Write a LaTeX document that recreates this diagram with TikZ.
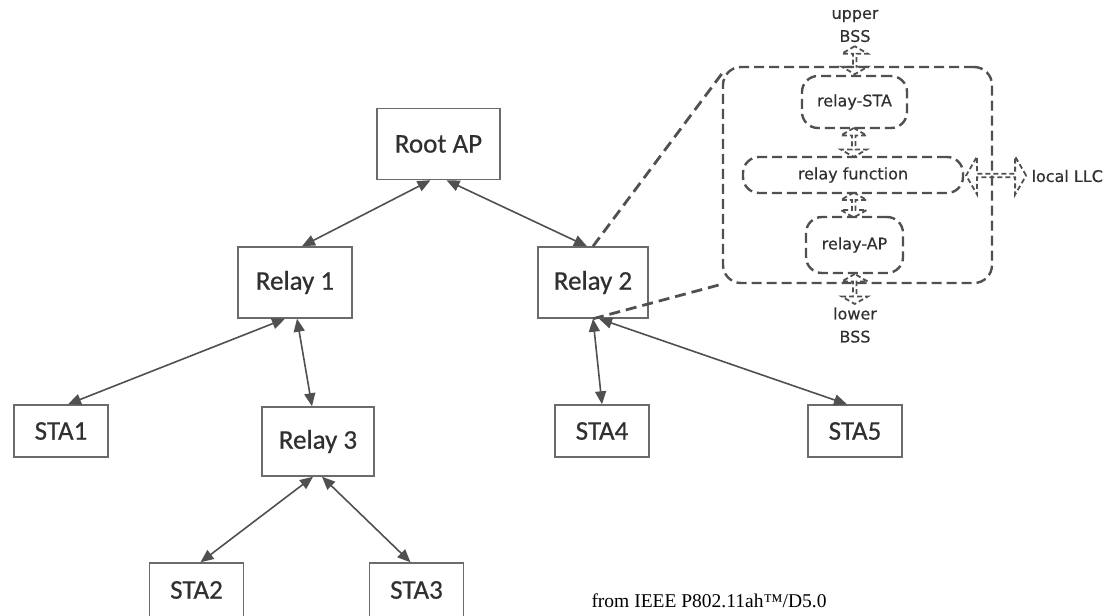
\documentclass[tikz,border=0pt]{standalone}
\usepackage{fontspec}
\setmainfont{Carlito}
\newfontfamily\boxfont{Carlito}[FakeBold=0.6]
\newfontfamily\relayfont{DejaVu Sans}[FakeBold=0.4]
\newfontfamily\notefont{Liberation Serif}
\usetikzlibrary{arrows.meta,shapes.arrows,calc}
\definecolor{boxgray}{HTML}{6B6B6B}
\definecolor{linkgray}{HTML}{505050}
\definecolor{txtgray}{HTML}{303030}
\begin{document}
\begin{tikzpicture}[x=1pt,y=-1pt,
  >={Triangle[length=13pt,width=11pt]},
  unit/.style={draw=boxgray,line width=1.5pt,text=txtgray,font=\boxfont\fontsize{27}{30}\selectfont,inner sep=0pt},
  relay/.style={unit,minimum width=112pt,minimum height=71pt},
  sta/.style={unit,minimum width=94pt,minimum height=52pt},
  link/.style={<->,draw=linkgray,line width=1.6pt},
  zoomline/.style={draw=linkgray,line width=2.8pt,dash pattern=on 11pt off 6pt},
  part/.style={draw=linkgray,line width=2.4pt,dash pattern=on 10pt off 5pt,rounded corners=16pt,text=txtgray,font=\relayfont\fontsize{16}{18}\selectfont},
  flow/.style={double arrow,draw=linkgray,line width=1.8pt,dash pattern=on 5pt off 3pt,inner sep=0pt,minimum width=26pt,double arrow head extend=5.5pt,double arrow tip angle=120},
  side/.style={text=txtgray,font=\relayfont\fontsize{16}{23}\selectfont,align=center}]
\clip (0,0) rectangle (1107,615);
% tree
\node[relay,minimum width=123pt] (root) at (438.5,144) {Root AP};
\node[relay,minimum width=114pt] (r1) at (295,282.5) {Relay 1};
\node[relay,minimum width=110pt] (r2) at (593,282.5) {Relay 2};
\node[relay,minimum height=69pt] (r3) at (318,441.5) {Relay 3};
\node[sta] (sta1) at (61,431) {STA1};
\node[sta,minimum height=54pt] (sta2) at (196.5,590) {STA2};
\node[sta,minimum height=54pt] (sta3) at (416.5,590) {STA3};
\node[sta] (sta4) at (602,431) {STA4};
\node[sta] (sta5) at (855,431) {STA5};
\draw[link] ([xshift=-8pt]root.south) -- ([xshift=7pt]r1.north);
\draw[link] ([xshift=8pt]root.south) -- ([xshift=-6pt]r2.north);
\draw[link] ([xshift=-10pt]r1.south) -- ([xshift=7pt]sta1.north);
\draw[link] ([xshift=2pt]r1.south) -- ([xshift=-6pt]r3.north);
\draw[link] ([xshift=-5pt]r3.south) -- ([xshift=4pt]sta2.north);
\draw[link] ([xshift=4pt]r3.south) -- ([xshift=-6pt]sta3.north);
\draw[link] (r2.south) -- (sta4.north);
\draw[link] ([xshift=6pt]r2.south) -- ([xshift=-8pt]sta5.north);
% relay detail
\node[part,minimum width=269pt,minimum height=216pt,rounded corners=18pt] (relaybox) at (857.5,175) {};
\node[part,minimum width=105pt,minimum height=52pt] (rsta) at (854.5,102) {relay-STA};
\node[part,minimum width=220pt,minimum height=36pt] (rfun) at (853,175) {relay function};
\node[part,minimum width=97pt,minimum height=56pt] (rap) at (854.5,245) {relay-AP};
\node[side] (upper) at (855,26) {upper\\BSS};
\node[side] (lower) at (855,325) {lower\\BSS};
\node[side,anchor=west] (llc) at (1028,176) {local LLC};
\node[flow,rotate=90,minimum height=28pt] at ($(upper.south)!0.5!(rsta.north)$) {};
\node[flow,rotate=90,minimum height=29pt] at ($(rsta.south)!0.5!(rfun.north)$) {};
\node[flow,rotate=90,minimum height=25pt] at ($(rfun.south)!0.5!(rap.north)$) {};
\node[flow,rotate=90,minimum height=30pt] at ($(rap.south)!0.5!(lower.north)$) {};
\node[flow,minimum height=60pt,minimum width=38pt,double arrow head extend=9pt] at ($(rfun.east)!0.5!(llc.west)$) {};
\draw[zoomline] (r2.north) -- ([yshift=-8pt]relaybox.north west);
\draw[zoomline] (r2.south) -- (relaybox.south west);
\node[font=\notefont\fontsize{19.5}{22}\selectfont,anchor=base] (src) at (709,607) {from IEEE P802.11ah™/D5.0};
\end{tikzpicture}
\end{document}
